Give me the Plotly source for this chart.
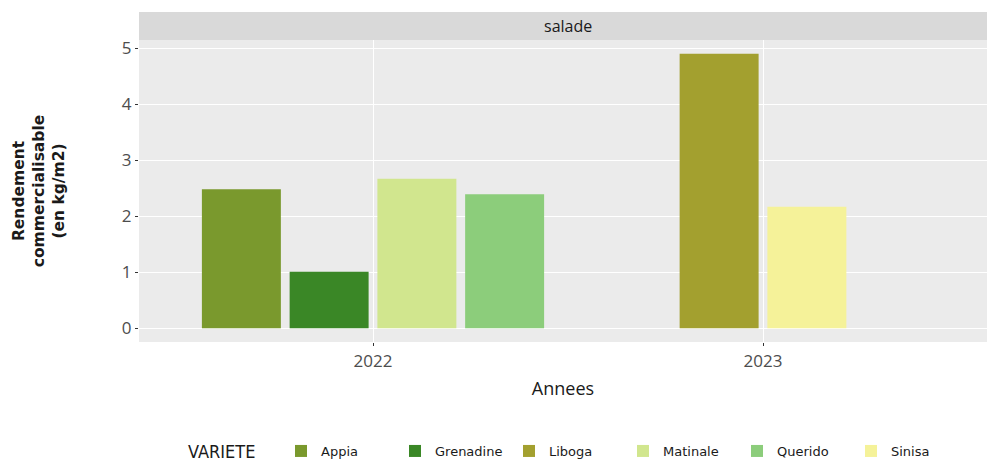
import plotly.graph_objects as go

# ---- data ----
varieties = ["Appia", "Grenadine", "Liboga", "Matinale", "Querido", "Sinisa"]
years = ["2022", "2022", "2023", "2022", "2022", "2023"]
values = [2.48, 1.01, 4.90, 2.67, 2.39, 2.17]
colors = ["#7a992d", "#3a8726", "#a3a02f", "#d1e68e", "#8ccd7b", "#f5f299"]
year_order = ["2022", "2023"]
facet_label = "salade"
legend_title = "VARIETE"

# dodge2-like slot assignment (bars centred within each year)
counts = {y: years.count(y) for y in year_order}
maxn = max(counts.values())
seen = {y: 0 for y in year_order}
slots = []
for y in years:
    slots.append(seen[y] + (maxn - counts[y]) // 2)
    seen[y] += 1

fig = go.Figure()
for name, yr, val, col, slot in zip(varieties, years, values, colors, slots):
    fig.add_trace(go.Bar(
        x=[yr], y=[val], name=name, offsetgroup=str(slot),
        marker=dict(color=col, line=dict(width=0)),
    ))

W, H = 987, 461
ML, MR, MT, MB = 139, 0, 40, 119
PH = H - MT - MB
PW = W - ML - MR
unit_px = 390.0
x_lo = -0.6
x_hi = x_lo + PW / unit_px
ymax = max(values)
pad = 0.05 * ymax

def px_x(p):
    return (p - ML) / PW

def px_y(p):
    return (MT + PH - p) / PH

fig.update_layout(
    width=W, height=H,
    margin=dict(l=ML, r=MR, t=MT, b=MB, autoexpand=False),
    barmode="group", bargap=0.1, bargroupgap=0.1,
    paper_bgcolor="white", plot_bgcolor="#ebebeb",
    font=dict(family="Open Sans", color="#4d4d4d"),
    xaxis=dict(
        type="category", categoryorder="array", categoryarray=year_order,
        range=[x_lo, x_hi], showgrid=True, gridcolor="white", gridwidth=1.2,
        zeroline=False, ticks="outside", ticklen=3, tickcolor="#333333",
        ticklabelstandoff=1,
        tickfont=dict(family="Open Sans", size=17, color="#4d4d4d"),
        title=dict(text="Annees", font=dict(family="Open Sans", size=18, color="#1a1a1a"), standoff=10),
        fixedrange=True,
    ),
    yaxis=dict(
        range=[-pad, ymax + pad], dtick=1, tick0=0,
        showgrid=True, gridcolor="white", gridwidth=1.2, zeroline=False,
        ticks="outside", ticklen=3, tickcolor="#333333",
        tickfont=dict(family="Open Sans", size=17, color="#4d4d4d"),
        title=dict(text="Rendement<br>commercialisable<br>(en kg/m2)",
                   font=dict(family="DejaVu Sans", size=15.5, color="#1a1a1a", weight="bold"),
                   standoff=53),
        fixedrange=True,
    ),
    legend=dict(
        orientation="h", x=px_x(281), xanchor="left", y=px_y(451), yanchor="middle",
        font=dict(family="DejaVu Sans", size=13, color="#1a1a1a"),
        entrywidth=69, entrywidthmode="pixels",
        bgcolor="rgba(0,0,0,0)", traceorder="normal",
    ),
    showlegend=True,
)

# legend title as separate text
fig.add_annotation(text=legend_title, xref="paper", yref="paper", x=px_x(187), y=px_y(451),
                   showarrow=False, xanchor="left", yanchor="middle", borderpad=0,
                   font=dict(family="DejaVu Sans Condensed, Liberation Sans Narrow, DejaVu Sans", size=18, color="#1a1a1a"))

# facet strip
fig.add_shape(type="rect", xref="paper", yref="paper", x0=0, x1=1.02, y0=1.0, y1=1.0 + 28 / PH,
              fillcolor="#d9d9d9", line=dict(width=0), layer="below")
fig.add_annotation(text=facet_label, xref="x", yref="paper", x=0.5, y=1.0 + 14 / PH,
                   showarrow=False, font=dict(family="Open Sans", size=16, color="#1a1a1a"),
                   xanchor="center", yanchor="middle")

fig.write_html("out.html", config={"displayModeBar": False},
               post_script="document.body.style.margin='0';document.body.style.overflow='hidden';")
